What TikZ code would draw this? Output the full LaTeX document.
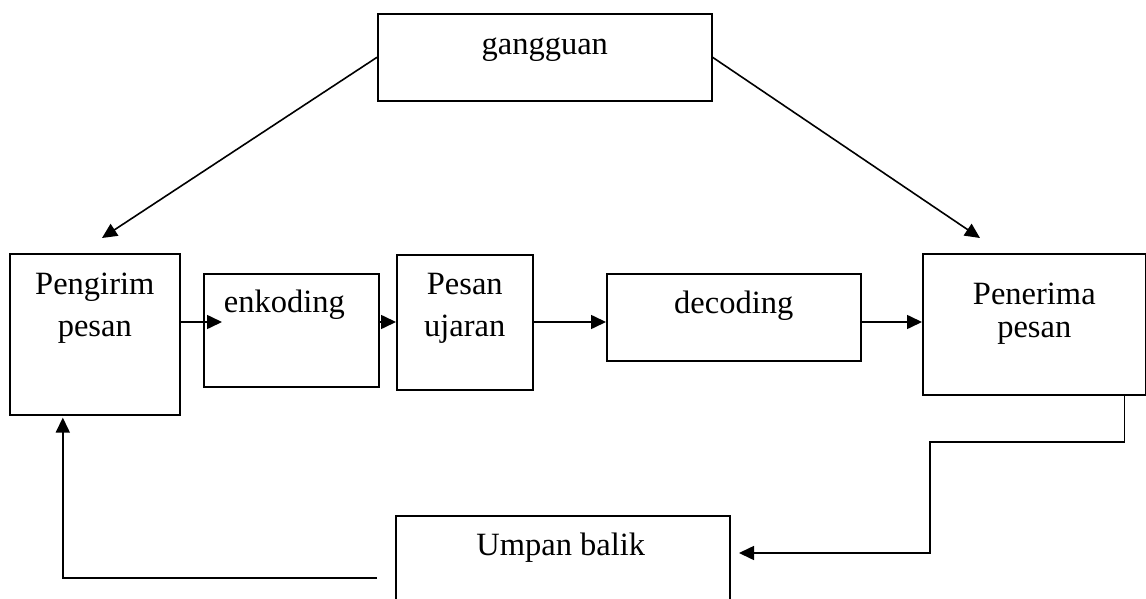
\documentclass[tikz,border=0pt]{standalone}
\usepackage{fontspec}
\setmainfont{Liberation Serif}
\usetikzlibrary{positioning,arrows.meta}

\begin{document}
\begin{tikzpicture}[x=1pt,y=-1pt,line width=1.6pt,
    kotak/.style={draw,inner sep=0pt,anchor=north west},
    teks/.style={inner sep=0pt,align=center,font=\fontsize{32.5}{38}\selectfont},
    panah/.style={-{Triangle[length=15pt,width=14pt]}}]
          \useasboundingbox (0,0) rectangle (1146,599);
          \clip (0,0) rectangle (1146,599);
          % kotak-kotak
          \node[kotak,minimum width=334pt,minimum height=87pt] (gang) at (377,13) {};
          \node[kotak,minimum width=170pt,minimum height=161pt] (peng) at (9,253) {};
          \node[kotak,minimum width=175pt,minimum height=113pt] (enk) at (203,273) {};
          \node[kotak,minimum width=136pt,minimum height=135pt] (pes) at (396,254) {};
          \node[kotak,minimum width=254pt,minimum height=87pt] (dec) at (606,273) {};
          \node[kotak,minimum width=223pt,minimum height=141pt] (pen) at (922,253) {};
          \node[kotak,minimum width=334pt,minimum height=125pt] (umpan) at (395,515) {};
          % tulisan
          \node[teks,below=24pt of gang.north] (gangT) {gangguan};
          \node[teks,below=19pt of peng.north] (pengT) {Pengirim\\[4pt]pesan};
          \node[teks,below=16pt of enk.north,xshift=-7pt] (enkT) {enkoding};
          \node[teks,below=18pt of pes.north] (pesT) {Pesan\\[4pt]ujaran};
          \node[teks,below=17pt of dec.north] (decT) {decoding};
          \node[teks,below=29pt of pen.north] (penT) {Penerima\\[-5pt]pesan};
          \node[teks,below=17pt of umpan.north,xshift=-2pt] (umpanT) {Umpan balik};
          % titik bantu
          \coordinate (garis) at (0,322);
          \coordinate (pengAtas) at (102,238);
          \coordinate (penAtas) at (980,238);
          \coordinate (belok) at (930,442);
          \coordinate (balikUjung) at (739,553);
          \coordinate (balikKiri) at (377,578);
          % panah
          \draw[panah] (gang.west) -- (pengAtas);
          \draw[panah] (gang.east) -- (penAtas);
          \draw[panah] (peng.east |- garis) -- ([xshift=19pt]enk.west |- garis);
          \draw[panah] (enk.east |- garis) -- (pes.west |- garis);
          \draw[panah] (pes.east |- garis) -- (dec.west |- garis);
          \draw[panah] (dec.east |- garis) -- (pen.west |- garis);
          \draw[panah] ([xshift=-22pt]pen.south east) |- (belok) |- (balikUjung);
          \draw[panah] (balikKiri) -| ([xshift=-32pt,yshift=-2pt]peng.south);
\end{tikzpicture}
\end{document}
